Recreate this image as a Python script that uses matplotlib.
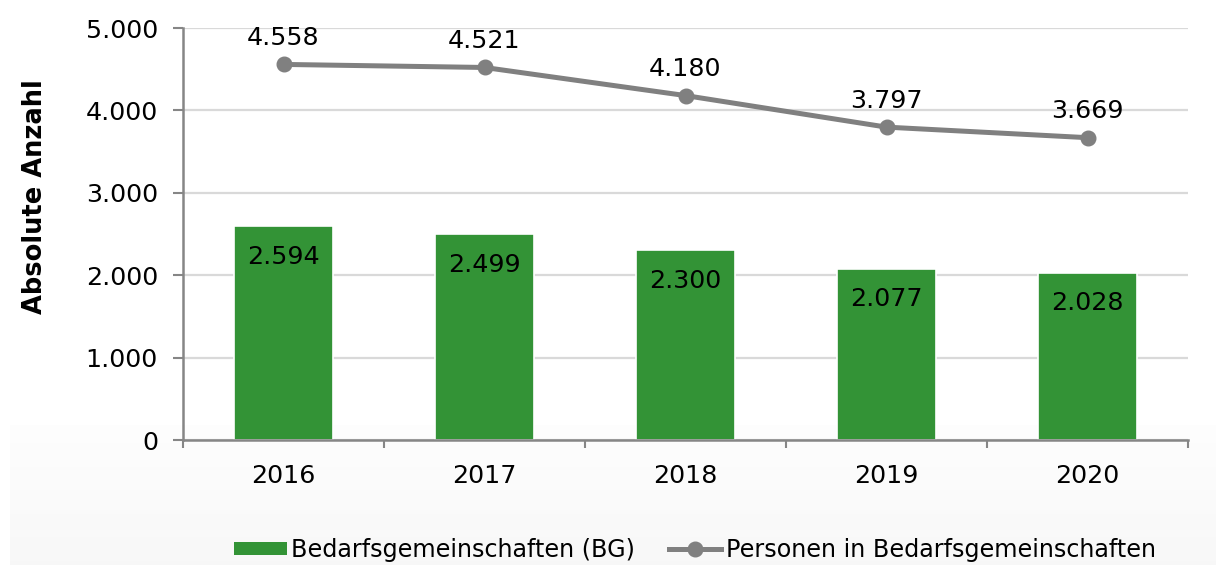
import matplotlib
matplotlib.use("Agg")
import matplotlib.pyplot as plt
import numpy as np
from matplotlib.lines import Line2D
from matplotlib.patches import Patch

years = ["2016", "2017", "2018", "2019", "2020"]
bg_values = [2594, 2499, 2300, 2077, 2028]
persons_values = [4558, 4521, 4180, 3797, 3669]
yticks = [0, 1000, 2000, 3000, 4000, 5000]
ytick_labels = ["0", "1.000", "2.000", "3.000", "4.000", "5.000"]
bar_label = "Bedarfsgemeinschaften (BG)"
line_label = "Personen in Bedarfsgemeinschaften"
ylabel = "Absolute Anzahl"

def fmt(v):
    return f"{v:,}".replace(",", ".")

W, H = 1216, 565
fig = plt.figure(figsize=(W / 100, H / 100), dpi=100)
plt.rcParams['font.family'] = ['DejaVu Sans']
FS = 18.3
FS_LEG = 17.2

# faint gradient band at bottom
gax = fig.add_axes([10 / W, 0, 1 - 10 / W, 140 / H], zorder=-5)
grad = np.linspace(0, 1, 100)[:, None]
gax.imshow(grad, aspect='auto', cmap=matplotlib.colors.LinearSegmentedColormap.from_list(
    'g', [(0.995, 0.995, 0.995), (0.972, 0.972, 0.972)]), extent=[0, 1, 0, 1], origin='upper')
gax.axis('off')

ax = fig.add_axes([183 / W, 1 - 440 / H, (1188 - 183) / W, (440 - 28) / H])
ax.patch.set_alpha(0)
x = np.arange(len(years))

bars = ax.bar(x, bg_values, width=0.49, color='#339336', edgecolor='white', linewidth=1.2, zorder=2)
ax.plot(x, persons_values, color='#808080', linewidth=3.6, marker='o', markersize=10.5, zorder=3)

for xi, v in zip(x, bg_values):
    ax.annotate(fmt(v), (xi, v), xytext=(0, -22), textcoords='offset points',
                ha='center', va='center', fontsize=FS, color='black', zorder=4)
for xi, v in zip(x, persons_values):
    ax.annotate(fmt(v), (xi, v), xytext=(0, 19), textcoords='offset points',
                ha='center', va='center', fontsize=FS, color='black', zorder=4)

ax.set_xlim(-0.5, len(years) - 0.5)
ax.set_ylim(0, 5000)
ax.set_yticks(yticks)
ax.set_yticklabels(ytick_labels, fontsize=FS)
ax.set_xticks(x)
ax.set_xticklabels(years, fontsize=FS)
ax.set_xticks(np.arange(-0.5, len(years), 1.0), minor=True)
ax.tick_params(axis='x', which='major', length=0, pad=17)
ax.tick_params(axis='x', which='minor', length=6, width=1.5, color='#868686')
ax.tick_params(axis='y', length=7, width=1.5, color='#868686', pad=11)
ax.yaxis.grid(True, color='#d9d9d9', linewidth=1.6, zorder=0)
ax.set_axisbelow(True)
for s in ['top', 'right']:
    ax.spines[s].set_visible(False)
for s in ['left', 'bottom']:
    ax.spines[s].set_color('#868686')
    ax.spines[s].set_linewidth(1.8)

fig.text(35 / W, 1 - 197 / H, ylabel, rotation=90, ha='center', va='center',
         fontsize=18.5, fontweight='bold')

handles = [Patch(facecolor='#339336', edgecolor='none'),
           Line2D([0], [0], color='#808080', linewidth=3.6, marker='o', markersize=10.5)]
fig.legend(handles, [bar_label, line_label], loc='center', bbox_to_anchor=(695 / W, 1 - 550 / H),
           ncol=2, frameon=False, fontsize=FS_LEG, handlelength=2.2, handleheight=0.5,
           columnspacing=1.4, handletextpad=0.2)

fig.savefig("out.png", dpi=100)
